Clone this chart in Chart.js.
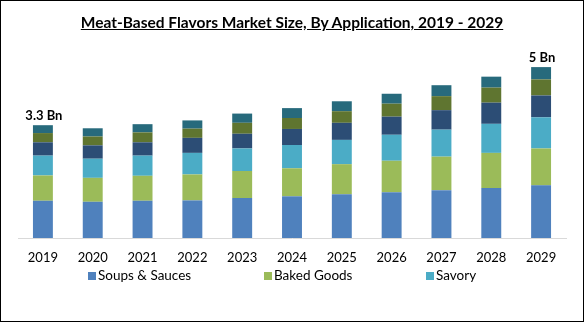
<!DOCTYPE html>
<html>
<head>
<meta charset="utf-8">
<script src="https://cdn.jsdelivr.net/npm/chart.js@4.4.0/dist/chart.umd.min.js"></script>
<style>
  body { margin: 0; background: #fff; }
  #wrap { position: relative; width: 584px; height: 322px; }
  #wrap canvas { position: absolute; left: 0; top: 0; }
  #title {
    position: absolute; left: 0; right: 0; top: 13px;
    text-align: center; color: #000;
    font: bold 15.5px Lato, sans-serif;
    text-decoration: underline;
  }
  #frame {
    position: absolute; left: 0; top: 0; width: 584px; height: 322px;
    box-sizing: border-box; border: 1px solid #000; pointer-events: none;
  }
</style>
</head>
<body>
<div id="wrap">
  <canvas id="marketChart" width="584" height="322"></canvas>
  <div id="title">Meat-Based Flavors Market Size, By Application, 2019 - 2029</div>
  <div id="frame"></div>
</div>
<script>
// market size per application, USD Bn
const years = ['2019', '2020', '2021', '2022', '2023', '2024', '2025', '2026', '2027', '2028', '2029'];
const soupsSauces = [1.09, 1.06, 1.09, 1.10, 1.17, 1.22, 1.28, 1.34, 1.40, 1.46, 1.54];
const bakedGoods  = [0.74, 0.70, 0.73, 0.76, 0.79, 0.82, 0.88, 0.92, 0.98, 1.03, 1.08];
const savory      = [0.58, 0.56, 0.59, 0.63, 0.66, 0.68, 0.71, 0.76, 0.79, 0.85, 0.91];
const segment4    = [0.39, 0.39, 0.39, 0.44, 0.43, 0.47, 0.50, 0.53, 0.57, 0.62, 0.64];
const segment5    = [0.27, 0.26, 0.29, 0.27, 0.32, 0.32, 0.34, 0.38, 0.41, 0.44, 0.47];
const segment6    = [0.23, 0.24, 0.24, 0.24, 0.27, 0.29, 0.29, 0.29, 0.32, 0.32, 0.36];

// only first and last year get a total on top
const totalLabelIndexes = [0, 10];

const seriesList = [
    { label: 'Soups & Sauces', data: soupsSauces, color: '#4F81BD', legend: true },
    { label: 'Baked Goods', data: bakedGoods, color: '#9BBB59', legend: true },
    { label: 'Savory', data: savory, color: '#4BACC6', legend: true },
    { label: 'Segment 4', data: segment4, color: '#2C4D75', legend: false },
    { label: 'Segment 5', data: segment5, color: '#5F7530', legend: false },
    { label: 'Segment 6', data: segment6, color: '#276A7C', legend: false }
];

// writes "x.x Bn" above the chosen stacks
const totalsPlugin = {
    id: 'totals',
    afterDatasetsDraw(chart) {
        const ctx = chart.ctx;
        const topMeta = chart.getDatasetMeta(chart.data.datasets.length - 1);
        ctx.save();
        ctx.font = 'bold 13px Lato, sans-serif';
        ctx.fillStyle = '#000';
        ctx.textAlign = 'center';
        ctx.textBaseline = 'middle';
        totalLabelIndexes.forEach(i => {
            const sum = chart.data.datasets.reduce((acc, ds) => acc + ds.data[i], 0);
            const text = parseFloat(sum.toFixed(1)) + ' Bn';
            const bar = topMeta.data[i];
            ctx.fillText(text, bar.x + 1, bar.y - 9);
        });
        ctx.restore();
    }
};

// spread-out legend along the bottom, like the spreadsheet version
const spreadLegendPlugin = {
    id: 'spreadLegend',
    afterDraw(chart, args, opts) {
        const ctx = chart.ctx;
        const items = chart.data.datasets.filter(ds => ds.showInLegend);
        ctx.save();
        ctx.font = '13.5px Lato, sans-serif';
        ctx.textBaseline = 'middle';
        ctx.textAlign = 'left';
        items.forEach((ds, i) => {
            const x = opts.xPositions[i];
            ctx.fillStyle = ds.backgroundColor;
            ctx.fillRect(x, opts.y - 4, 8, 8);
            ctx.fillStyle = '#000';
            ctx.fillText(ds.label, x + 10, opts.y);
        });
        ctx.restore();
    }
};

function drawChart() {
    const ctx = document.getElementById('marketChart').getContext('2d');
    new Chart(ctx, {
        type: 'bar',
        data: {
            labels: years,
            datasets: seriesList.map(s => ({
                label: s.label,
                data: s.data,
                backgroundColor: s.color,
                showInLegend: s.legend,
                categoryPercentage: 1,
                barPercentage: 0.4
            }))
        },
        options: {
            responsive: false,
            animation: false,
            layout: { padding: { top: 50, left: 18, right: 18, bottom: 0 } },
            scales: {
                x: {
                    stacked: true,
                    grid: { display: false, drawTicks: false },
                    border: { color: '#d9d9d9' },
                    ticks: {
                        color: '#000',
                        font: { family: 'Lato', size: 13 },
                        padding: 12
                    },
                    afterFit: scale => { scale.height = 84; }
                },
                y: {
                    stacked: true,
                    display: false,
                    min: 0,
                    max: 5.5
                }
            },
            plugins: {
                legend: { display: false },
                tooltip: { enabled: false },
                spreadLegend: { xPositions: [88, 264, 426], y: 276 }
            }
        },
        plugins: [totalsPlugin, spreadLegendPlugin]
    });
}

Promise.all([
    document.fonts.load('13px Lato'),
    document.fonts.load('bold 13px Lato')
]).then(drawChart, drawChart);
</script>
</body>
</html>
